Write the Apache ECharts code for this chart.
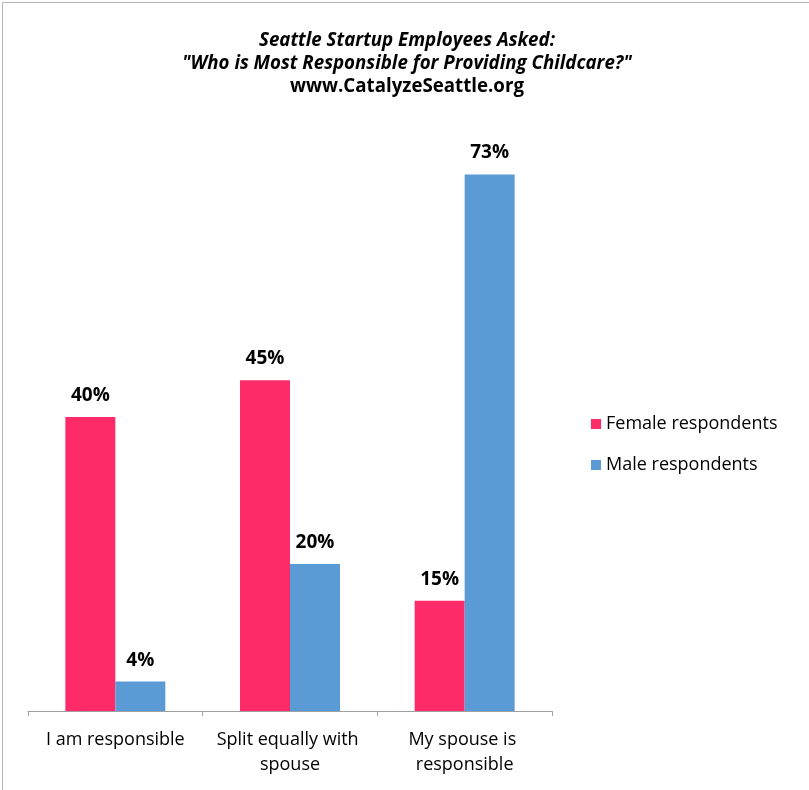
<!DOCTYPE html>
<html><head><meta charset="utf-8">
<script src="https://cdn.jsdelivr.net/npm/echarts@6/dist/echarts.min.js"></script>
<style>html,body{margin:0;padding:0;background:#fff}#c{width:809px;height:790px}</style>
</head><body><div id="c"></div>
<script>
const categories = ['I am responsible', 'Split equally with spouse', 'My spouse is responsible'];
const seriesNames = ['Female respondents', 'Male respondents'];
const femaleValues = [40, 45, 15];
const maleValues = [4, 20, 73];
const titleLines = ['Seattle Startup Employees Asked:', '"Who is Most Responsible for Providing Childcare?"', 'www.CatalyzeSeattle.org'];

const FONT = '"Open Sans", "Noto Sans", sans-serif';
const chart = echarts.init(document.getElementById('c'), null, {renderer: 'canvas'});
const labelCfg = {
  show: true, position: 'top', distance: 12,
  formatter: p => Math.round(p.value) + '%',
  fontFamily: FONT, fontWeight: 'bold', fontSize: 19, color: '#000'
};
chart.setOption({
  animation: false,
  backgroundColor: '#fff',
  graphic: [{
    type: 'rect', left: 0, top: 0, z: -1,
    shape: {x: 0.5, y: 0.5, width: 807, height: 788},
    style: {fill: 'none', stroke: '#b5b5b5', lineWidth: 1}
  }],
  title: {
    text: '{i|' + titleLines[0] + '}\n{i|' + titleLines[1] + '}\n{b|' + titleLines[2] + '}',
    left: 407, top: 29, padding: 0, textAlign: 'center',
    textStyle: {
      rich: {
        i: {fontFamily: FONT, fontWeight: 'bold', fontStyle: 'italic', fontSize: 18.7, lineHeight: 23, color: '#000'},
        b: {fontFamily: FONT, fontWeight: 'bold', fontSize: 18.7, lineHeight: 23, color: '#000'}
      }
    }
  },
  legend: {
    orient: 'vertical', left: 586, top: 410,
    itemWidth: 10, itemHeight: 10, itemGap: 23,
    icon: 'rect',
    textStyle: {fontFamily: FONT, fontSize: 18, color: '#000', padding: [0, 0, 0, 0]},
    data: seriesNames
  },
  grid: {left: 28, right: 257, top: 123, bottom: 79, containLabel: false},
  xAxis: {
    type: 'category', data: categories,
    axisLine: {lineStyle: {color: '#a0a0a0', width: 1}},
    axisTick: {show: true, length: 5, lineStyle: {color: '#a0a0a0'}},
    axisLabel: {
      fontFamily: FONT, fontSize: 18, color: '#000', margin: 16, lineHeight: 25,
      width: 165, overflow: 'break', interval: 0
    }
  },
  yAxis: {type: 'value', min: 0, max: 80, show: false, splitLine: {show: false}},
  series: [
    {name: seriesNames[0], type: 'bar', data: femaleValues, barWidth: 50, barGap: '0%',
     itemStyle: {color: '#FF2A68'}, label: labelCfg},
    {name: seriesNames[1], type: 'bar', data: maleValues, barWidth: 50, barGap: '0%',
     itemStyle: {color: '#5B9BD5'}, label: labelCfg}
  ]
});
</script></body></html>
